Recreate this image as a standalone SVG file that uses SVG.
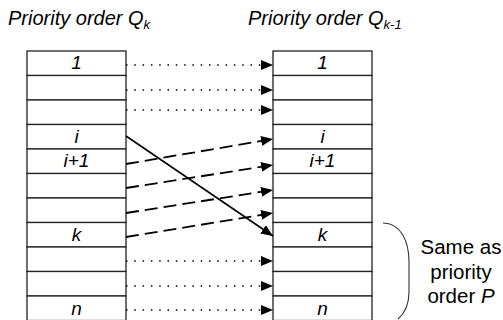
<svg xmlns="http://www.w3.org/2000/svg" width="503" height="320" viewBox="0 0 503 320">
<style>
text{font-family:"Liberation Sans",Arial,sans-serif;fill:#000}
.t{font-size:20px;font-style:italic}
.sub{font-size:13px}
.lbl{font-size:19px;font-style:italic;text-anchor:middle}
.note{font-size:20.5px;text-anchor:middle}
.cell{fill:#fff;stroke:#222;stroke-width:1.3}
.dot{stroke:#000;stroke-width:1.5;stroke-dasharray:1.5 6.8;fill:none}
.dash{stroke:#000;stroke-width:1.8;stroke-dasharray:13 6;fill:none}
.sol{stroke:#000;stroke-width:1.6;fill:none}
</style>
<defs>
<marker id="ah" markerUnits="userSpaceOnUse" markerWidth="13" markerHeight="11" refX="12" refY="5" orient="auto">
<path d="M0,0 L12,5 L0,10 Z" fill="#000" stroke="none"/>
</marker>
</defs>
<text class="t" x="8" y="25">Priority order Q<tspan class="sub" dy="4">k</tspan></text>
<text class="t" x="248" y="25">Priority order Q<tspan class="sub" dy="4">k-1</tspan></text>
<g id="left">
<rect class="cell" x="27" y="51" width="99" height="24.5"/>
<rect class="cell" x="27" y="75.5" width="99" height="24.5"/>
<rect class="cell" x="27" y="100" width="99" height="24.5"/>
<rect class="cell" x="27" y="124.5" width="99" height="24.5"/>
<rect class="cell" x="27" y="149" width="99" height="24.5"/>
<rect class="cell" x="27" y="173.5" width="99" height="24.5"/>
<rect class="cell" x="27" y="198" width="99" height="24.5"/>
<rect class="cell" x="27" y="222.5" width="99" height="24.5"/>
<rect class="cell" x="27" y="247" width="99" height="24.5"/>
<rect class="cell" x="27" y="271.5" width="99" height="24.5"/>
<rect class="cell" x="27" y="296" width="99" height="24.5"/>
<text class="lbl" x="76.5" y="69">1</text>
<text class="lbl" x="76.5" y="143">i</text>
<text class="lbl" x="76.5" y="167">i+1</text>
<text class="lbl" x="76.5" y="241">k</text>
<text class="lbl" x="76.5" y="315">n</text>
</g>
<g id="right">
<rect class="cell" x="273" y="51" width="99" height="24.5"/>
<rect class="cell" x="273" y="75.5" width="99" height="24.5"/>
<rect class="cell" x="273" y="100" width="99" height="24.5"/>
<rect class="cell" x="273" y="124.5" width="99" height="24.5"/>
<rect class="cell" x="273" y="149" width="99" height="24.5"/>
<rect class="cell" x="273" y="173.5" width="99" height="24.5"/>
<rect class="cell" x="273" y="198" width="99" height="24.5"/>
<rect class="cell" x="273" y="222.5" width="99" height="24.5"/>
<rect class="cell" x="273" y="247" width="99" height="24.5"/>
<rect class="cell" x="273" y="271.5" width="99" height="24.5"/>
<rect class="cell" x="273" y="296" width="99" height="24.5"/>
<text class="lbl" x="322.5" y="69">1</text>
<text class="lbl" x="322.5" y="143">i</text>
<text class="lbl" x="322.5" y="167">i+1</text>
<text class="lbl" x="322.5" y="241">k</text>
<text class="lbl" x="322.5" y="315">n</text>
</g>
<g id="connectors">
<line class="dot" x1="126" y1="65" x2="273" y2="65" marker-end="url(#ah)"/>
<line class="dot" x1="126" y1="90" x2="273" y2="90" marker-end="url(#ah)"/>
<line class="dot" x1="126" y1="110" x2="273" y2="110" marker-end="url(#ah)"/>
<line class="dash" x1="126" y1="164" x2="273" y2="139" marker-end="url(#ah)"/>
<line class="dash" x1="126" y1="188" x2="273" y2="165" marker-end="url(#ah)"/>
<line class="dash" x1="126" y1="213" x2="273" y2="190" marker-end="url(#ah)"/>
<line class="dash" x1="126" y1="237" x2="273" y2="213" marker-end="url(#ah)"/>
<line class="sol" x1="126" y1="136" x2="273" y2="236" marker-end="url(#ah)"/>
<line class="dot" x1="126" y1="261" x2="273" y2="261" marker-end="url(#ah)"/>
<line class="dot" x1="126" y1="286" x2="273" y2="286" marker-end="url(#ah)"/>
<line class="dot" x1="126" y1="310" x2="273" y2="310" marker-end="url(#ah)"/>
</g>
<g id="brace">
<path d="M383,223 C400,223 409,240 409,262 L409,292 C409,306 404,314 398,319" fill="none" stroke="#333" stroke-width="1.1"/>
<text class="note" x="461" y="254">Same as</text>
<text class="note" x="461" y="279">priority</text>
<text class="note" x="461" y="303">order <tspan font-style="italic">P</tspan></text>
</g>
</svg>
